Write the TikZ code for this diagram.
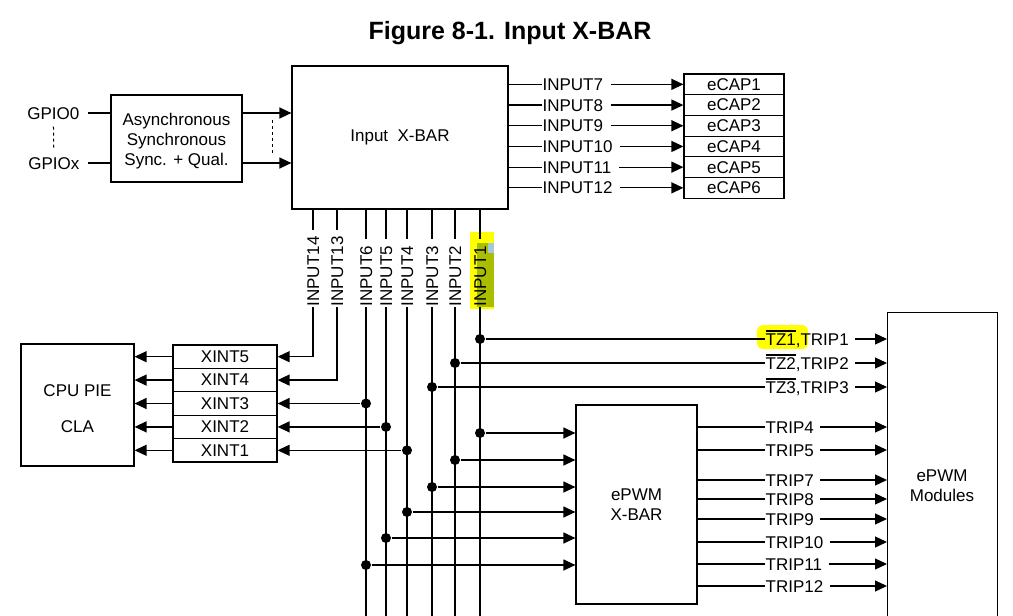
\documentclass[tikz,border=0pt]{standalone}
\usepackage{fontspec}
\setmainfont{Liberation Sans}
\usetikzlibrary{arrows.meta}
\definecolor{hly}{RGB}{255,255,0}
\definecolor{hlg}{RGB}{170,190,0}
\definecolor{hlb}{RGB}{165,200,220}
\newcommand{\ovl}[1]{\setbox0\hbox{#1}\rlap{\rule[13.6pt]{\wd0}{1.5pt}}\box0}
\begin{document}
\begin{tikzpicture}[x=1pt,y=-1pt,line width=1.25pt,
  font=\fontsize{17}{20}\selectfont,
  box/.style={draw,line width=1.2pt,inner sep=0pt,align=center},
  lbl/.style={inner sep=0pt,text height=12.2pt,text depth=0pt},
  arr/.style={-{Triangle[length=12pt,width=11pt]}},
  jdot/.style={circle,fill=black,inner sep=0pt,minimum size=10pt},
  dsh/.style={line width=1pt,dash pattern=on 3pt off 3pt}]

\clip (0,0) rectangle (1013,616);
\fill[white] (0,0) rectangle (1013,616);
\coordinate (bot) at (0,622);

% highlights
\fill[hly] (470,232) rectangle (494,309);
\fill[hlg] (477,243) rectangle (494,307);
\fill[hlb] (488,243) rectangle (494,253);
\fill[hly,rounded corners=6pt] (757,325) rectangle (808,349);

% title
\node[font=\fontsize{25}{30}\selectfont\bfseries] (title) at (510,33) {Figure 8-1. Input X-BAR};

% GPIO and qualification
\node[lbl,anchor=east] (g0) at (80,113) {GPIO0};
\node[lbl,anchor=east] (gx) at (80,163) {GPIOx};
\node[box,minimum width=131pt,minimum height=87pt] (async) at (176.5,138.5) {};
\node[align=center,inner sep=0pt] (asynct) at (176.5,141) {Asynchronous\\Synchronous\\Sync. + Qual.};
\draw[shorten <=8pt] (g0.east) -- (async.west |- g0.east);
\draw[shorten <=8pt] (gx.east) -- (async.west |- gx.east);
\draw[dsh,shorten <=7pt,shorten >=7pt] (g0.south) -- (gx.north);

% Input X-BAR
\node[box,minimum width=216pt,minimum height=143pt] (xbar) at (400,137.5) {Input\ \ X-BAR};
\draw[arr] (async.east |- g0.east) -- (xbar.west |- g0.east);
\draw[arr] (async.east |- gx.east) -- (xbar.west |- gx.east);
\coordinate (q1) at (272,120);
\coordinate (q2) at (272,153);
\draw[dsh] (q1) -- (q2);

% eCAP
\foreach \i/\y/\k in {1/84.35/7,2/105.05/8,3/125.75/9,4/146.45/10,5/167.15/11,6/187.85/12}{
  \node[box,minimum width=100pt,minimum height=20.7pt] (e\i) at (734,\y) {eCAP\i};
  \node[lbl,anchor=west] (in\k) at (542,\y) {INPUT\k};
  \draw (xbar.east |- in\k.west) -- (in\k.west);
  \draw[arr,shorten <=7pt] (in\k.east) -- (e\i.west |- in\k.east);
}

% vertical inputs
\foreach \n/\x/\t in {i14/313/INPUT14,i13/337/INPUT13,i6/366/INPUT6,i5/386/INPUT5,i4/407/INPUT4,i3/432/INPUT3,i2/455/INPUT2,i1/480/INPUT1}{
  \node[lbl,rotate=90,anchor=west] (\n) at (\x,307) {\t};
  \draw[shorten >=6pt] (xbar.south -| \n.west) -- (\n.east);
}
\foreach \n in {i6,i5,i4,i3,i2,i1}{
  \draw (\n.west) -- (\n.west |- bot);
}

% XINT and CPU
\node[box,minimum width=113pt,minimum height=122pt] (cpu) at (77.5,405) {};
\node[align=center,inner sep=0pt] (cput) at (77.5,409) {CPU PIE\\[16pt]CLA};
\foreach \n/\y in {5/356.7,4/380.1,3/403.5,2/426.9,1/450.3}{
  \node[box,minimum width=104pt,minimum height=23.4pt] (x\n) at (225,\y) {XINT\n};
  \draw[arr] (x\n.west) -- (cpu.east |- x\n.west);
}
\draw[arr] (i14.west) -- (i14.west |- x5.east) -- (x5.east);
\draw[arr] (i13.west) -- (i13.west |- x4.east) -- (x4.east);
\node[jdot] (a3) at (i6.west |- x3.east) {};
\node[jdot] (a2) at (i5.west |- x2.east) {};
\node[jdot] (a1) at (i4.west |- x1.east) {};
\draw[arr] (a3) -- (x3.east);
\draw[arr] (a2) -- (x2.east);
\draw[arr] (a1) -- (x1.east);

% ePWM modules
\node[box,minimum width=110pt,minimum height=330pt,anchor=north west] (mod) at (887,312) {};
\node[align=center,inner sep=0pt] (modt) at (942,486) {ePWM\\Modules};

% TZ rows
\node[lbl,anchor=west] (tz1) at (765,339) {\ovl{TZ1},TRIP1};
\node[lbl,anchor=west] (tz2) at (765,363) {\ovl{TZ2},TRIP2};
\node[lbl,anchor=west] (tz3) at (765,387) {\ovl{TZ3},TRIP3};
\node[jdot] (b1) at (i1.west |- tz1.west) {};
\node[jdot] (b2) at (i2.west |- tz2.west) {};
\node[jdot] (b3) at (i3.west |- tz3.west) {};
\foreach \k in {1,2,3}{
  \draw (b\k) -- (tz\k.west);
  \draw[arr,shorten <=6pt] (tz\k.east) -- (mod.west |- tz\k.east);
}

% ePWM X-BAR
\node[box,minimum width=121pt,minimum height=199pt] (pxbar) at (636.5,504.5) {ePWM\\X-BAR};
\node[jdot] (c1) at (480,433) {};
\node[jdot] (c2) at (455,460) {};
\node[jdot] (c3) at (432,487) {};
\node[jdot] (c4) at (407,512) {};
\node[jdot] (c5) at (386,538) {};
\node[jdot] (c6) at (366,565) {};
\foreach \k in {1,...,6}{
  \draw[arr] (c\k) -- (pxbar.west |- c\k);
}

% TRIP rows
\foreach \k/\y in {4/427,5/450,7/480,8/499,9/519,10/542,11/564,12/586}{
  \node[lbl,anchor=west] (t\k) at (765,\y) {TRIP\k};
  \draw (pxbar.east |- t\k.west) -- (t\k.west);
  \draw[arr,shorten <=6pt] (t\k.east) -- (mod.west |- t\k.east);
}
\end{tikzpicture}
\end{document}
